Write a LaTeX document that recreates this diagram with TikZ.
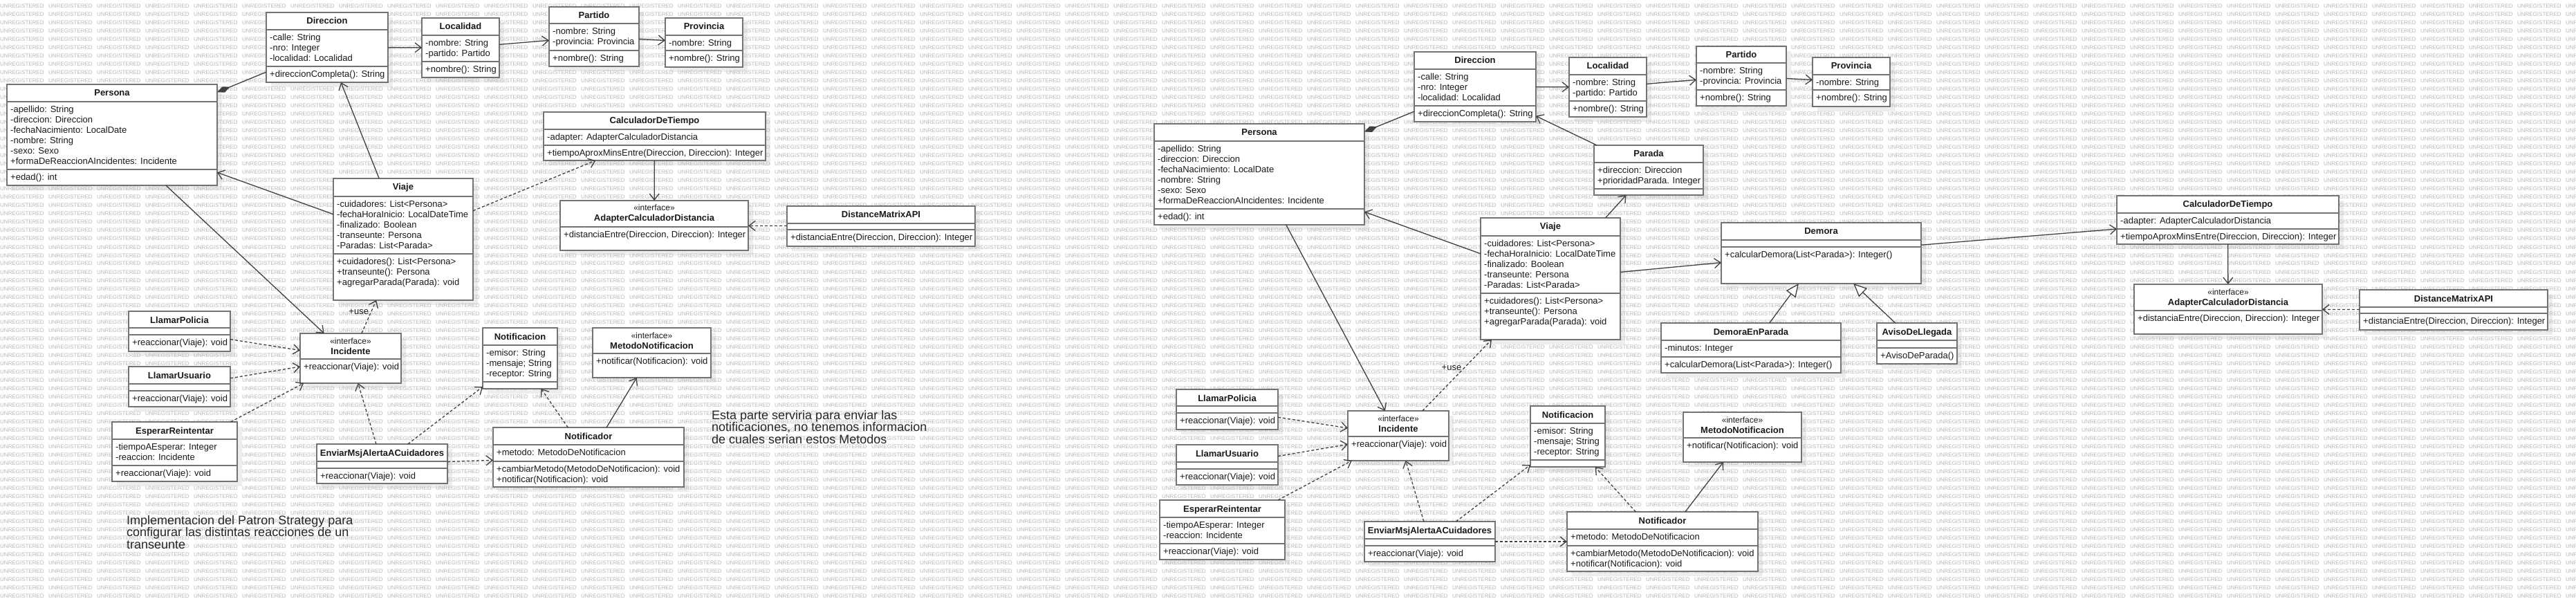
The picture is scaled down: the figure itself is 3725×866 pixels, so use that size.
\documentclass[tikz,border=0pt]{standalone}
\usepackage{fontspec}
\setmainfont{Liberation Sans}
\usetikzlibrary{arrows.meta,calc}
\pgfdeclarelayer{shadowl}
\pgfdeclarelayer{wml}
\pgfsetlayers{shadowl,wml,main}
\tikzset{
 clsbox/.style={draw=black!55, line width=2pt, fill=white, rectangle, inner sep=0pt, outer sep=0pt},
 sepl/.style={draw=black!55, line width=2pt},
 shad/.style={fill=black!7},
 ttlf/.style={font=\fontsize{13}{15}\selectfont\bfseries, inner sep=0pt, text=black!90},
 stf/.style={font=\fontsize{12}{14}\selectfont, inner sep=0pt, text=black!90},
 lnf/.style={font=\fontsize{13}{15}\selectfont, inner sep=0pt, text=black!90},
 wmf/.style={font=\fontsize{8}{8}\selectfont, text=black!28, inner sep=0pt, anchor=base west},
 notef/.style={font=\fontsize{18}{18}\selectfont, inner sep=0pt, anchor=base west, text=black!85},
 conn/.style={draw=black!75, line width=1.3pt},
 assoc/.style={conn, -{Straight Barb[length=9pt,width=14pt]}},
 dep/.style={assoc, dash pattern=on 4pt off 3pt},
 comp/.style={conn, {Diamond[length=20pt,width=9pt]}-},
 gen/.style={conn, -{Triangle[open,length=19pt,width=17pt,fill=white]}},
}
\newcommand\wmw{\makebox[70pt][l]{UNREGISTERED}}
\newcommand\wmx{\wmw\wmw\wmw\wmw\wmw\wmw\wmw\wmw\wmw\wmw}
\newcommand\wmrow{\wmx\wmx\wmx\wmx\wmx\wmw\wmw\wmw\wmw}
\newcommand\cls[7]{%
  \def\curcls{#1}\def\hrel{#6}%
  \if\relax\detokenize{#7}\relax\def\srel{#6}\else\def\srel{#7}\fi
  \begin{pgfonlayer}{shadowl}\fill[shad] (#2+7,#3+7) rectangle (#2+#4+7,#3+#5+7);\end{pgfonlayer}
  \node[clsbox, minimum width=#4pt, minimum height=#5pt] (#1) at ({#2+#4/2},{#3+#5/2}) {};
  \draw[sepl] (#2,#3+#6) -- (#2+#4,#3+#6);
  \if\relax\detokenize{#7}\relax\else\draw[sepl] (#2,#3+#7) -- (#2+#4,#3+#7);\fi
}
\newcommand\ttl[1]{\node[ttlf,anchor=base] (\curcls-t) at ($(\curcls.north)+(0,17)$) {#1};}
\newcommand\ifc[1]{\node[stf,anchor=base] (\curcls-s) at ($(\curcls.north)+(0,15)$) {«interface»};%
  \node[ttlf,anchor=base] (\curcls-t) at ($(\curcls.north)+(0,30)$) {#1};}
\newcommand\attrs[1]{\foreach \tx [count=\i] in {#1} {\node[lnf,anchor=base west] (\curcls-a\i) at ($(\curcls.north west)+(5,{\hrel+15.5+15*(\i-1)})$) {\tx};}}
\newcommand\meths[1]{\foreach \tx [count=\i] in {#1} {\node[lnf,anchor=base west] (\curcls-m\i) at ($(\curcls.north west)+(5,{\srel+15.5+15*(\i-1)})$) {\tx};}}
\begin{document}
\begin{tikzpicture}[x=1pt,y=-1pt]
\useasboundingbox (0,0) rectangle (3725,866);
\begin{pgfonlayer}{shadowl}
\fill[white] (0,0) rectangle (3725,866);
\end{pgfonlayer}
\begin{pgfonlayer}{wml}
\foreach \rowi in {0,...,71} \node[wmf] (wm\rowi) at (0,{12+12*\rowi}) {\wmrow};
\end{pgfonlayer}

% ---------------- LEFT DIAGRAM ----------------
\cls{Ldir}{385}{18}{176}{101}{25}{78}\ttl{Direccion}\attrs{-calle: String,-nro: Integer,-localidad: Localidad}\meths{+direccionCompleta(): String}
\cls{Lloc}{610}{26}{112}{86}{25}{63}\ttl{Localidad}\attrs{-nombre: String,-partido: Partido}\meths{+nombre(): String}
\cls{Lpar}{794}{10}{130}{86}{24}{63}\ttl{Partido}\attrs{-nombre: String,-provincia: Provincia}\meths{+nombre(): String}
\cls{Lprov}{962}{26}{112}{71}{25}{47}\ttl{Provincia}\attrs{-nombre: String}\meths{+nombre(): String}
\cls{Lper}{10}{122}{304}{146}{25}{123}\ttl{Persona}\attrs{-apellido: String,-direccion: Direccion,-fechaNacimiento: LocalDate,-nombre: String,-sexo: Sexo,+formaDeReaccionAIncidentes: Incidente}\meths{+edad(): int}
\cls{Lvia}{482}{258}{202}{176}{26}{109}\ttl{Viaje}\attrs{-cuidadores: List<Persona>,-fechaHoraInicio: LocalDateTime,-finalizado: Boolean,-transeunte: Persona,-Paradas: List<Parada>}\meths{+cuidadores(): List<Persona>,+transeunte(): Persona,+agregarParada(Parada): void}
\cls{Lcalc}{786}{162}{321}{70}{25}{48}\ttl{CalculadorDeTiempo}\attrs{-adapter: AdapterCalculadorDistancia}\meths{{+tiempoAproxMinsEntre(Direccion, Direccion): Integer}}
\cls{Ladap}{810}{290}{272}{72}{38}{}\ifc{AdapterCalculadorDistancia}\meths{{+distanciaEntre(Direccion, Direccion): Integer}}
\cls{Ldma}{1138}{298}{272}{58}{25}{34}\ttl{DistanceMatrixAPI}\meths{{+distanciaEntre(Direccion, Direccion): Integer}}
\cls{Lpol}{186}{450}{147}{58}{24}{34}\ttl{LlamarPolicia}\meths{+reaccionar(Viaje): void}
\cls{Lusu}{186}{530}{147}{58}{25}{35}\ttl{LlamarUsuario}\meths{+reaccionar(Viaje): void}
\cls{Lesp}{162}{610}{181}{86}{25}{63}\ttl{EsperarReintentar}\attrs{-tiempoAEsperar: Integer,-reaccion: Incidente}\meths{+reaccionar(Viaje): void}
\cls{Linc}{434}{482}{146}{72}{37}{}\ifc{Incidente}\meths{+reaccionar(Viaje): void}
\cls{Lenv}{458}{642}{189}{57}{25}{35}\ttl{EnviarMsjAlertaACuidadores}\meths{+reaccionar(Viaje): void}
\cls{Lnot}{698}{474}{108}{88}{25}{78}\ttl{Notificacion}\attrs{-emisor: String,-mensaje; String,-receptor: String}
\cls{Lmet}{857}{474}{171}{72}{37}{}\ifc{MetodoNotificacion}\meths{+notificar(Notificacion): void}
\cls{Lntf}{713}{618}{276}{86}{25}{49}\ttl{Notificador}\attrs{+metodo: MetodoDeNotificacion}\meths{+cambiarMetodo(MetodoDeNotificacion): void,+notificar(Notificacion): void}

\node[notef] (noteL1) at (183,758) {Implementacion del Patron Strategy para};
\node[notef] (noteL2) at (183,775.5) {configurar las distintas reacciones de un};
\node[notef] (noteL3) at (183,793) {transeunte};
\node[notef] (noteR1) at (1029,606) {Esta parte serviria para enviar las};
\node[notef] (noteR2) at (1029,623.5) {notificaciones, no tenemos informacion};
\node[notef] (noteR3) at (1029,641) {de cuales serian estos Metodos};

\draw[comp] (Lper) -- (Ldir);
\draw[assoc] (Ldir) -- (Lloc);
\draw[assoc] (Lloc) -- (Lpar);
\draw[assoc] (Lpar) -- (Lprov);
\draw[assoc] (Lvia) -- (Ldir);
\draw[assoc] (Lvia) -- (Lper);
\draw[assoc] (Lper) -- (Linc);
\draw[dep] (Lvia) -- (Lcalc);
\draw[assoc] (Lcalc) -- (Ladap);
\draw[dep] (Ldma) -- (Ladap);
\draw[dep] (Lpol) -- (Linc);
\draw[dep] (Lusu) -- (Linc);
\draw[dep] (Lesp) -- (Linc);
\draw[dep] (Linc) -- node[lnf, pos=0.65, anchor=east, inner sep=3pt] (Luse) {+use} (Lvia);
\draw[dep] (Lenv) -- (Linc);
\draw[dep] (Lenv) -- (Lnot);
\draw[dep] (Lenv) -- (Lntf);
\draw[dep] (Lntf) -- (Lnot);
\draw[assoc] (Lntf) -- (Lmet);

% ---------------- RIGHT DIAGRAM ----------------
\cls{Rdir}{2045}{75}{176}{101}{25}{78}\ttl{Direccion}\attrs{-calle: String,-nro: Integer,-localidad: Localidad}\meths{+direccionCompleta(): String}
\cls{Rloc}{2269}{83}{112}{86}{25}{63}\ttl{Localidad}\attrs{-nombre: String,-partido: Partido}\meths{+nombre(): String}
\cls{Rpar}{2453}{67}{130}{86}{24}{63}\ttl{Partido}\attrs{-nombre: String,-provincia: Provincia}\meths{+nombre(): String}
\cls{Rprov}{2621}{83}{112}{71}{25}{47}\ttl{Provincia}\attrs{-nombre: String}\meths{+nombre(): String}
\cls{Rper}{1669}{179}{304}{146}{25}{123}\ttl{Persona}\attrs{-apellido: String,-direccion: Direccion,-fechaNacimiento: LocalDate,-nombre: String,-sexo: Sexo,+formaDeReaccionAIncidentes: Incidente}\meths{+edad(): int}
\cls{Rpara}{2305}{210}{158}{72}{25}{63}\ttl{Parada}\attrs{+direccion: Direccion,+prioridadParada. Integer}
\cls{Rvia}{2141}{315}{202}{176}{26}{109}\ttl{Viaje}\attrs{-cuidadores: List<Persona>,-fechaHoraInicio: LocalDateTime,-finalizado: Boolean,-transeunte: Persona,-Paradas: List<Parada>}\meths{+cuidadores(): List<Persona>,+transeunte(): Persona,+agregarParada(Parada): void}
\cls{Rdem}{2489}{322}{289}{88}{25}{35}\ttl{Demora}\meths{+calcularDemora(List<Parada>): Integer()}
\cls{Rdep}{2402}{467}{260}{72}{25}{49}\ttl{DemoraEnParada}\attrs{-minutos: Integer}\meths{+calcularDemora(List<Parada>): Integer()}
\cls{Rav}{2714}{467}{116}{59}{25}{36}\ttl{AvisoDeLlegada}\meths{+AvisoDeParada()}
\cls{Rcalc}{3061}{283}{321}{70}{25}{48}\ttl{CalculadorDeTiempo}\attrs{-adapter: AdapterCalculadorDistancia}\meths{{+tiempoAproxMinsEntre(Direccion, Direccion): Integer}}
\cls{Radap}{3086}{411}{272}{72}{38}{}\ifc{AdapterCalculadorDistancia}\meths{{+distanciaEntre(Direccion, Direccion): Integer}}
\cls{Rdma}{3412}{419}{272}{58}{25}{34}\ttl{DistanceMatrixAPI}\meths{{+distanciaEntre(Direccion, Direccion): Integer}}
\cls{Rpol}{1701}{563}{147}{58}{24}{34}\ttl{LlamarPolicia}\meths{+reaccionar(Viaje): void}
\cls{Rusu}{1701}{643}{147}{58}{25}{35}\ttl{LlamarUsuario}\meths{+reaccionar(Viaje): void}
\cls{Resp}{1677}{723}{181}{86}{25}{63}\ttl{EsperarReintentar}\attrs{-tiempoAEsperar: Integer,-reaccion: Incidente}\meths{+reaccionar(Viaje): void}
\cls{Rinc}{1949}{594}{146}{72}{37}{}\ifc{Incidente}\meths{+reaccionar(Viaje): void}
\cls{Renv}{1973}{754}{189}{58}{25}{35}\ttl{EnviarMsjAlertaACuidadores}\meths{+reaccionar(Viaje): void}
\cls{Rnot}{2213}{587}{108}{88}{25}{78}\ttl{Notificacion}\attrs{-emisor: String,-mensaje; String,-receptor: String}
\cls{Rmet}{2434}{596}{171}{72}{37}{}\ifc{MetodoNotificacion}\meths{+notificar(Notificacion): void}
\cls{Rntf}{2266}{740}{276}{86}{25}{49}\ttl{Notificador}\attrs{+metodo: MetodoDeNotificacion}\meths{+cambiarMetodo(MetodoDeNotificacion): void,+notificar(Notificacion): void}

\draw[comp] (Rper) -- (Rdir);
\draw[assoc] (Rdir) -- (Rloc);
\draw[assoc] (Rloc) -- (Rpar);
\draw[assoc] (Rpar) -- (Rprov);
\draw[assoc] (Rpara) -- (Rdir);
\draw[assoc] (Rvia) -- (Rpara);
\draw[assoc] (Rvia) -- (Rper);
\draw[assoc] (Rvia) -- (Rdem);
\draw[assoc] (Rdem) -- (Rcalc);
\draw[assoc] (Rcalc) -- (Radap);
\draw[dep] (Rdma) -- (Radap);
\draw[gen] (Rdep) -- (Rdem);
\draw[gen] (Rav) -- (Rdem);
\draw[assoc] (Rper) -- (Rinc);
\draw[dep] (Rpol) -- (Rinc);
\draw[dep] (Rusu) -- (Rinc);
\draw[dep] (Resp) -- (Rinc);
\draw[dep] (Rinc) -- node[lnf, pos=0.6, anchor=east, inner sep=3pt] (Ruse) {+use} (Rvia);
\draw[dep] (Renv) -- (Rinc);
\draw[dep] (Renv) -- (Rnot);
\draw[dep] (Renv) -- (Rntf);
\draw[dep] (Rntf) -- (Rnot);
\draw[assoc] (Rntf) -- (Rmet);
\end{tikzpicture}
\end{document}
